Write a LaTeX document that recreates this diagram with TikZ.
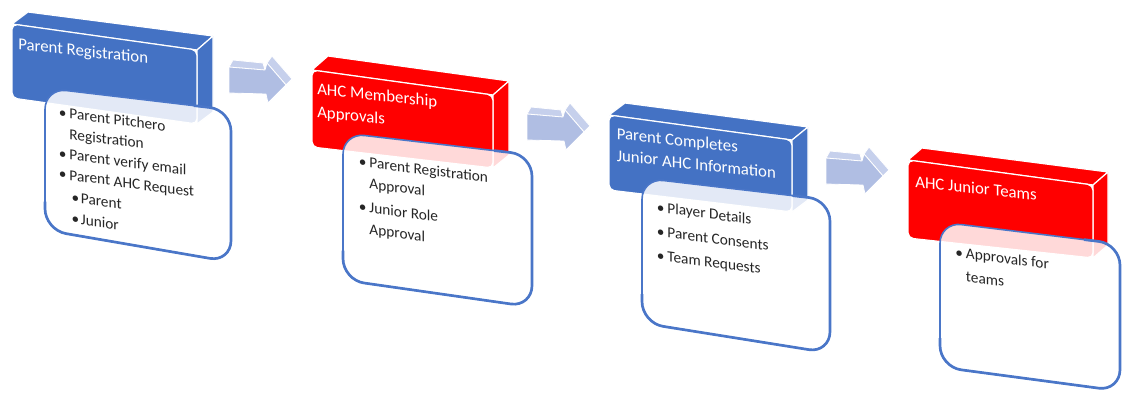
\documentclass[tikz,border=0pt]{standalone}
\usepackage{fontspec}
\setmainfont{Carlito}
\usetikzlibrary{calc}
\definecolor{ahcblue}{HTML}{4472C4}
\definecolor{ahcred}{HTML}{FF0000}
\definecolor{arrowfront}{HTML}{B0BEE3}
\definecolor{arrowtop}{HTML}{C6D0EC}
\definecolor{boxline}{HTML}{4A76C8}
\definecolor{txt}{HTML}{262626}
\newcommand{\myblt}{\makebox[8pt][l]{\textbullet}}
\newcommand{\mysubblt}{\hspace*{9.6pt}\makebox[7pt][l]{\textbullet}}
\newcommand{\mycont}{\hspace*{8pt}}
\begin{document}
\begin{tikzpicture}[x=0.75pt,y=-0.75pt,
  face/.style={fill=#1, draw=white, line width=0.9pt, line join=round},
  frontface/.style={fill=#1, draw=white, line width=0.9pt, rounded corners=4pt},
  detailbox/.style={fill=white, fill opacity=0.85, draw=boxline, line width=1.2pt, rounded corners=16pt},
  boxedge/.style={draw=boxline, line width=2pt, rounded corners=16pt},
  title/.style={font=\fontsize{12.6}{#1}\selectfont, text=white, inner sep=0pt, anchor=base west, align=left, yslant=-0.11},
  title/.default=16.5pt,
  detail/.style={font=\fontsize{11.5}{#1}\selectfont, text=txt, inner sep=0pt, anchor=base west, align=left, yslant=-0.13},
  detail/.default=15.4pt,
  arrowfrontface/.style={fill=arrowfront, draw=white, line width=0.6pt, line join=round},
  arrowtopface/.style={fill=arrowtop, draw=white, line width=0.6pt, line join=round}]
\useasboundingbox (0,0) rectangle (1123,394);

% ---------- arrows ----------
\foreach \ax/\ay in {229/67,527/114,826/158}{
  \begin{scope}[shift={(\ax,\ay)}]
    \path[arrowtopface] (0,0) -- (4,-7) -- (34,-4) -- (36,3) -- cycle;
    \path[arrowtopface] (38,-4) -- (43,-11) -- (63,12) -- (57,18) -- cycle;
    \path[arrowfrontface] (0,0) -- (36,3) -- (38,-4) -- (57,18) -- (39,36) -- (37,27) -- (0,26) -- cycle;
  \end{scope}
}

% ---------- detail box corners ----------
\coordinate (b1tl) at (45,88);   \coordinate (b1tr) at (231,110);
\coordinate (b1br) at (231,262); \coordinate (b1bl) at (45,230);
\coordinate (b2tl) at (343,133); \coordinate (b2tr) at (532,155);
\coordinate (b2br) at (532,307); \coordinate (b2bl) at (343,280);
\coordinate (b3tl) at (642,178); \coordinate (b3tr) at (830,200);
\coordinate (b3br) at (830,353); \coordinate (b3bl) at (642,323);
\coordinate (b4tl) at (940,222); \coordinate (b4tr) at (1120,244);
\coordinate (b4br) at (1120,391); \coordinate (b4bl) at (940,367);

% ---------- block 1 ----------
\path[face=ahcblue] (12,24) -- (28,12) -- (213,36) -- (197,50) -- cycle;
\path[face=ahcblue] (197,50) -- (213,36) -- (213,112) -- (197,124) -- cycle;
\path[frontface=ahcblue] (12,24) -- (197,50) -- (197,124) -- (12,98) -- cycle;
\node[title] (t1) at (18,49.5) {Parent Registration};
\path[detailbox] (b1tl) -- (b1tr) -- (b1br) -- (b1bl) -- cycle;
\path[boxedge] ($(b1tr)!0.2!(b1tl)$) -- (b1tr) -- (b1br) -- (b1bl) -- ($(b1bl)!0.2!(b1tl)$);
% anchored at the baseline of the last line
\node[detail] (d1) at (58.5,222) {\myblt Parent Pitchero\\
  \mycont Registration\\
  \myblt Parent verify email\\
  \myblt Parent AHC Request\\[1.1pt]
  \mysubblt Parent\\[0.4pt]
  \mysubblt Junior};

% ---------- block 2 ----------
\path[face=ahcred] (312,70) -- (328,56) -- (509,81) -- (493,95) -- cycle;
\path[face=ahcred] (493,95) -- (509,81) -- (509,155) -- (493,168) -- cycle;
\path[frontface=ahcred] (312,70) -- (493,95) -- (493,168) -- (312,147) -- cycle;
\node[title=17.25pt] (t2) at (317,117) {AHC Membership\\Approvals};
\path[detailbox] (b2tl) -- (b2tr) -- (b2br) -- (b2bl) -- cycle;
\path[boxedge] ($(b2tr)!0.2!(b2tl)$) -- (b2tr) -- (b2br) -- (b2bl) -- ($(b2bl)!0.2!(b2tl)$);
\node[detail=16.1pt] (d2) at (358.5,233) {\myblt Parent Registration\\
  \mycont Approval\\[1.9pt]
  \myblt Junior Role\\
  \mycont Approval};

% ---------- block 3 ----------
\path[face=ahcblue] (609,115) -- (625,103) -- (808,127) -- (792,140) -- cycle;
\path[face=ahcblue] (792,140) -- (808,127) -- (808,200) -- (792,212) -- cycle;
\path[frontface=ahcblue] (609,115) -- (792,140) -- (792,212) -- (609,190) -- cycle;
\node[title=16.5pt] (t3) at (616.5,161) {Parent Completes\\Junior AHC Information};
\path[detailbox] (b3tl) -- (b3tr) -- (b3br) -- (b3bl) -- cycle;
\path[boxedge] ($(b3tr)!0.2!(b3tl)$) -- (b3tr) -- (b3br) -- (b3bl) -- ($(b3bl)!0.2!(b3tl)$);
\node[detail=18pt] (d3) at (656.5,260) {\myblt Player Details\\
  \myblt Parent Consents\\
  \myblt Team Requests};

% ---------- block 4 ----------
\path[face=ahcred] (908,160) -- (922,148) -- (1108,172) -- (1093,185) -- cycle;
\path[face=ahcred] (1093,185) -- (1108,172) -- (1108,245) -- (1093,258) -- cycle;
\path[frontface=ahcred] (908,160) -- (1093,185) -- (1093,258) -- (908,238) -- cycle;
\node[title] (t4) at (915,187) {AHC Junior Teams};
\path[detailbox] (b4tl) -- (b4tr) -- (b4br) -- (b4bl) -- cycle;
\path[boxedge] ($(b4tr)!0.2!(b4tl)$) -- (b4tr) -- (b4br) -- (b4bl) -- ($(b4bl)!0.2!(b4tl)$);
\node[detail=17.25pt] (d4) at (955,280) {\myblt Approvals for\\
  \mycont teams};
\end{tikzpicture}
\end{document}
